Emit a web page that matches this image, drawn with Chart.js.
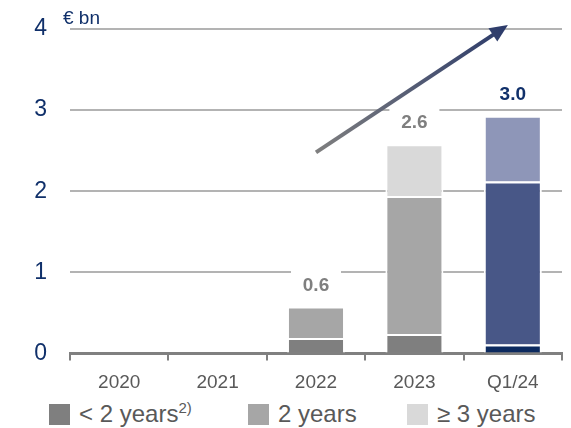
<!DOCTYPE html>
<html>
<head>
<meta charset="utf-8">
<script src="https://cdn.jsdelivr.net/npm/chart.js@4"></script>
<style>
    body { margin: 0; background: #fff; font-family: "Liberation Sans", Arial, sans-serif; }
    #wrap { position: relative; width: 571px; height: 428px; }
    #legend .item { position: absolute; top: 403px; display: flex; align-items: center; height: 22px; }
    #legend .box { width: 21px; height: 21px; margin-right: 9px; }
    #legend .txt { font-size: 24px; color: #595959; line-height: 22px; white-space: nowrap; }
    #legend sup { font-size: 15px; line-height: 0; vertical-align: 9px; }
</style>
</head>
<body>
<div id="wrap">
    <canvas id="chart" width="571" height="395"></canvas>
    <div id="legend"></div>
</div>
<script>
const categories = ['2020', '2021', '2022', '2023', 'Q1/24'];
const under2Years = [0, 0, 0.19, 0.24, 0.11];
const twoYears = [0, 0, 0.39, 1.70, 2.01];
const threePlusYears = [0, 0, 0, 0.64, 0.81];
const totalLabels = ['', '', '0.6', '2.6', '3.0'];
const yTicks = [0, 1, 2, 3, 4];
const seriesNames = ['< 2 years', '2 years', '≥ 3 years'];
const seriesNotes = ['2)', '', ''];

// arrow from [category index, value] to [category index, value]
const arrowFrom = [2, 2.48];
const arrowTo = [3.95, 4.05];

const grays = ['#7f7f7f', '#a6a6a6', '#d9d9d9'];
const blues = ['#0c2a5f', '#485787', '#8e96b8'];
const navy = '#10306a';
const font = '"Liberation Sans", Arial, sans-serif';

function colorsFor(i) {
    return categories.map(c => c === 'Q1/24' ? blues[i] : grays[i]);
}

const seriesValues = [under2Years, twoYears, threePlusYears];

const datasets = seriesValues.map((values, i) => ({
    label: seriesNames[i],
    data: values,
    backgroundColor: colorsFor(i),
    borderColor: '#ffffff',
    borderWidth: { top: 2, left: 2, right: 2, bottom: 0 },
    borderSkipped: 'start',
    barPercentage: 0.59,
    categoryPercentage: 1,
}));

const extras = {
    id: 'extras',
    afterDatasetsDraw(chart) {
        const ctx = chart.ctx;
        const x = chart.scales.x;
        const y = chart.scales.y;

        // totals above bars
        ctx.save();
        ctx.font = 'bold 19px ' + font;
        ctx.textAlign = 'center';
        ctx.textBaseline = 'middle';
        categories.forEach((c, i) => {
            if (!totalLabels[i]) return;
            const total = under2Years[i] + twoYears[i] + threePlusYears[i];
            const px = x.getPixelForValue(i);
            const py = y.getPixelForValue(total) - 21;
            const isLast = c === 'Q1/24';
            if (!isLast) {
                ctx.fillStyle = '#ffffff';
                ctx.fillRect(px - 25, py - 17, 50, 34);
            }
            ctx.fillStyle = isLast ? navy : '#7f7f7f';
            ctx.fillText(totalLabels[i], px, py);
        });

        // unit label
        ctx.font = '19px ' + font;
        ctx.textAlign = 'left';
        ctx.fillStyle = navy;
        ctx.fillText('€ bn', chart.chartArea.left - 7, chart.chartArea.top - 10);

        // growth arrow
        const x1 = x.getPixelForValue(arrowFrom[0]);
        const y1 = y.getPixelForValue(arrowFrom[1]);
        const x2 = x.getPixelForValue(arrowTo[0]);
        const y2 = y.getPixelForValue(arrowTo[1]);
        const ang = Math.atan2(y2 - y1, x2 - x1);
        const headLen = 18, headW = 8;
        const grad = ctx.createLinearGradient(x1, y1, x2, y2);
        grad.addColorStop(0, '#7f7f7f');
        grad.addColorStop(1, '#2b3a6a');
        ctx.strokeStyle = grad;
        ctx.fillStyle = grad;
        ctx.lineWidth = 4;
        ctx.beginPath();
        ctx.moveTo(x1, y1);
        ctx.lineTo(x2 - Math.cos(ang) * (headLen - 2), y2 - Math.sin(ang) * (headLen - 2));
        ctx.stroke();
        const bx = x2 - Math.cos(ang) * headLen;
        const by = y2 - Math.sin(ang) * headLen;
        ctx.beginPath();
        ctx.moveTo(x2, y2);
        ctx.lineTo(bx + Math.sin(ang) * headW, by - Math.cos(ang) * headW);
        ctx.lineTo(bx - Math.sin(ang) * headW, by + Math.cos(ang) * headW);
        ctx.closePath();
        ctx.fill();
        ctx.restore();
    }
};

new Chart(document.getElementById('chart'), {
    type: 'bar',
    data: { labels: categories, datasets: datasets },
    options: {
        responsive: false,
        animation: false,
        layout: { padding: { top: 29, right: 9, left: 0, bottom: 0 } },
        plugins: { legend: { display: false }, tooltip: { enabled: false } },
        scales: {
            x: {
                stacked: true,
                z: 1,
                grid: {
                    offset: true,
                    drawOnChartArea: false,
                    drawTicks: true,
                    tickLength: 7,
                    color: '#808080',
                    lineWidth: 2,
                },
                border: { display: true, color: '#808080', width: 3 },
                ticks: { color: '#595959', font: { family: font, size: 19 }, padding: 11 },
                afterFit: s => { s.height = 41.5; },
            },
            y: {
                stacked: true,
                min: 0,
                max: 4,
                afterBuildTicks: s => { s.ticks = yTicks.map(v => ({ value: v })); },
                ticks: { color: navy, font: { family: font, size: 23 }, padding: 23 },
                grid: {
                    drawTicks: false,
                    color: c => c.tick && c.tick.value === 0 ? 'rgba(0,0,0,0)' : '#b3b3b3',
                    lineWidth: 2,
                },
                border: { display: false },
                afterFit: s => { s.width = 70; s.paddingTop = 0; s.paddingBottom = 0; },
            },
        },
    },
    plugins: [extras],
});

// legend
const legendLefts = [49, 248, 407];
const legend = document.getElementById('legend');
seriesNames.forEach((name, i) => {
    const item = document.createElement('div');
    item.className = 'item';
    item.style.left = legendLefts[i] + 'px';
    const box = document.createElement('span');
    box.className = 'box';
    box.style.background = grays[i];
    const txt = document.createElement('span');
    txt.className = 'txt';
    txt.textContent = name;
    if (seriesNotes[i]) {
        const sup = document.createElement('sup');
        sup.textContent = seriesNotes[i];
        txt.appendChild(sup);
    }
    item.appendChild(box);
    item.appendChild(txt);
    legend.appendChild(item);
});
</script>
</body>
</html>
